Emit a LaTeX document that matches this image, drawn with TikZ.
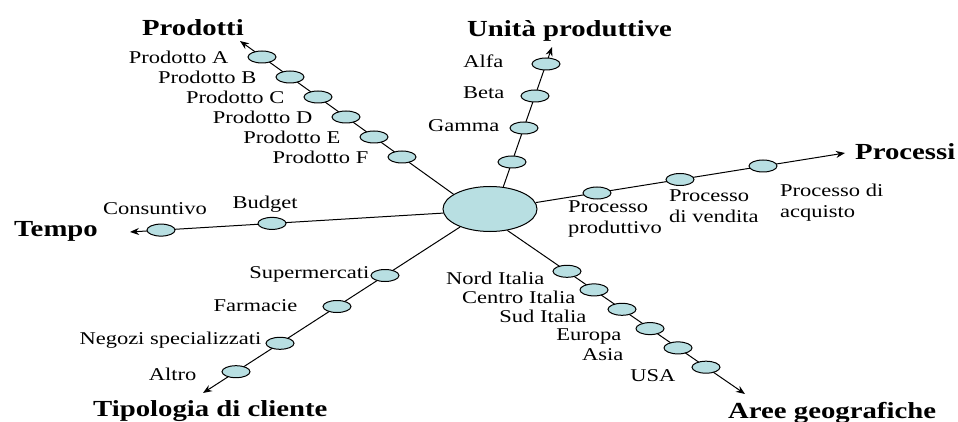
\documentclass[tikz,border=0pt]{standalone}
\usepackage{fontspec}
\setmainfont[FakeStretch=1.25]{Liberation Serif}
\usepackage{tikz}
\usetikzlibrary{arrows.meta,positioning,shapes.geometric}
\definecolor{dotfill}{HTML}{B8DFE2}

\begin{document}
\begin{tikzpicture}[
  x=1pt, y=-1pt,
  node distance=6pt,
  hub/.style={draw,ellipse,fill=dotfill,line width=1pt,minimum width=94pt,
              minimum height=45pt,inner sep=0pt},
  dot/.style={draw,ellipse,fill=dotfill,line width=1pt,minimum width=28pt,
              minimum height=12pt,inner sep=0pt},
  lbl/.style={inner sep=0pt,font=\fontsize{18}{21}\selectfont,
              text height=0.7em,text depth=0.25em},
  plbl/.style={inner sep=0pt,align=left,font=\fontsize{18}{21}\selectfont},
  ttl/.style={inner sep=0pt,font=\fontsize{23}{27}\selectfont\bfseries,
              text height=0.7em,text depth=0.25em},
  axis/.style={line width=1pt,-{Stealth[length=9pt,width=7pt]}}
]
  \useasboundingbox (0,0) rectangle (958,422);
  \node[hub] (cube) at (490,209) {};

  % arrow ends of the six dimensions
  \coordinate (tprod) at (240,41);
  \coordinate (tunit) at (552,47);
  \coordinate (tproc) at (845,153);
  \coordinate (ttemp) at (130,232);
  \coordinate (tclie) at (203,393);
  \coordinate (tgeo)  at (745,394);

  \draw[axis] (cube.158) -- (tprod);
  \draw[axis] (cube.59)  -- (tunit);
  \draw[axis] (cube.8)   -- (tproc);
  \draw[axis] (cube.185) -- (ttemp);
  \draw[axis] (cube.211) -- (tclie);
  \draw[axis] (cube.309) -- (tgeo);

  % Prodotti
  \node[dot] (pa) at (262,57) {};
  \node[dot] (pb) at (290,77) {};
  \node[dot] (pc) at (318,97) {};
  \node[dot] (pd) at (346,117) {};
  \node[dot] (pe) at (374,137) {};
  \node[dot] (pf) at (402,157) {};
  \node[lbl,left=19pt of pa,yshift=-4pt] (pa-l) {Prodotto A};
  \node[lbl,left=19pt of pb,yshift=-4pt] (pb-l) {Prodotto B};
  \node[lbl,left=19pt of pc,yshift=-4pt] (pc-l) {Prodotto C};
  \node[lbl,left=19pt of pd,yshift=-4pt] (pd-l) {Prodotto D};
  \node[lbl,left=19pt of pe,yshift=-4pt] (pe-l) {Prodotto E};
  \node[lbl,left=19pt of pf,yshift=-4pt] (pf-l) {Prodotto F};
  \node[ttl,anchor=south east] (prod) at (244,38) {Prodotti};

  % Unita produttive
  \node[dot] (ua) at (546,64) {};
  \node[dot] (ub) at (535,96) {};
  \node[dot] (uc) at (524,128) {};
  \node[dot] (ud) at (512,162) {};
  \node[lbl,left=28pt of ua,yshift=-1pt] (ua-l) {Alfa};
  \node[lbl,left=16pt of ub,yshift=0pt] (ub-l) {Beta};
  \node[lbl,left=10pt of uc,yshift=-1pt] (uc-l) {Gamma};
  \node[ttl,anchor=south west] (unit) at (467,39) {Unità produttive};

  % Processi
  \node[dot] (ra) at (597,193) {};
  \node[dot] (rb) at (680,179.5) {};
  \node[dot] (rc) at (763,166) {};
  \node[plbl,anchor=north west] (ra-l) at (568,201) {Processo\\produttivo};
  \node[plbl,anchor=north west] (rb-l) at (669,190) {Processo\\di vendita};
  \node[plbl,anchor=north west] (rc-l) at (780,184) {Processo di\\acquisto};
  \node[ttl,anchor=west] (proc) at (855,157) {Processi};

  % Tempo
  \node[dot] (tb) at (272,223.4) {};
  \node[dot] (tc) at (161,230.1) {};
  \node[lbl,above=6pt of tb,xshift=-7pt] (tb-l) {Budget};
  \node[lbl,above=6pt of tc,xshift=-6pt] (tc-l) {Consuntivo};
  \node[ttl,anchor=east] (temp) at (98,234) {Tempo};

  % Tipologia di cliente
  \node[dot] (ca) at (385,275.5) {};
  \node[dot] (cb) at (337,306.5) {};
  \node[dot] (cc) at (280,343.3) {};
  \node[dot] (cd) at (236,371.7) {};
  \node[lbl,left=1pt of ca,yshift=-1pt] (ca-l) {Supermercati};
  \node[lbl,left=25pt of cb,yshift=-2.5pt] (cb-l) {Farmacie};
  \node[lbl,left=4pt of cc,yshift=1pt] (cc-l) {Negozi specializzati};
  \node[lbl,left=25pt of cd,yshift=-7pt] (cd-l) {Altro};
  \node[ttl,anchor=west] (clie) at (93,414) {Tipologia di cliente};

  % Aree geografiche
  \node[dot] (ga) at (567,271.3) {};
  \node[dot] (gb) at (594,289.9) {};
  \node[dot] (gc) at (622,309.3) {};
  \node[dot] (gd) at (650,328.6) {};
  \node[dot] (ge) at (678,347.9) {};
  \node[dot] (gf) at (706,367.2) {};
  \node[lbl,left=8pt of ga,yshift=-11pt] (ga-l) {Nord Italia};
  \node[lbl,left=4pt of gb,yshift=-11pt] (gb-l) {Centro Italia};
  \node[lbl,left=21pt of gc,yshift=-11pt] (gc-l) {Sud Italia};
  \node[lbl,left=14pt of gd,yshift=-10pt] (gd-l) {Europa};
  \node[lbl,left=40pt of ge,yshift=-10pt] (ge-l) {Asia};
  \node[lbl,left=16pt of gf,yshift=-12pt] (gf-l) {USA};
  \node[ttl,anchor=west] (geo) at (728,416) {Aree geografiche};
\end{tikzpicture}
\end{document}
